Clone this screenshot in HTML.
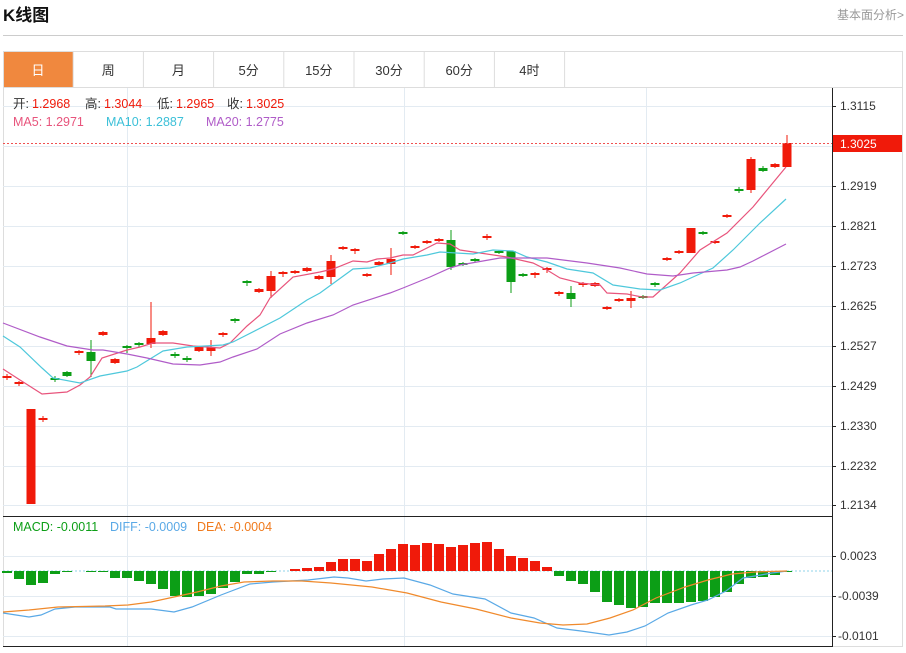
<!DOCTYPE html>
<html><head><meta charset="utf-8"><style>
body{margin:0;background:#fff;width:906px;height:648px;overflow:hidden;font-family:"Liberation Sans","Noto Sans CJK SC",sans-serif}
</style></head><body>
<svg id="s" width="906" height="648" xmlns="http://www.w3.org/2000/svg" font-family="Liberation Sans, Noto Sans CJK SC, sans-serif">
<text x="3" y="21" font-size="17" font-weight="bold" fill="#111">K线图</text>
<text x="904" y="19" font-size="12" fill="#999" text-anchor="end">基本面分析&gt;</text>
<line x1="3" y1="35.5" x2="903" y2="35.5" stroke="#ccc"/>
<rect x="3.5" y="51.5" width="899" height="595" fill="none" stroke="#ddd"/>
<line x1="3" y1="87.5" x2="903" y2="87.5" stroke="#ddd"/>
<rect x="4" y="52" width="69" height="35" fill="#f0883e"/>
<g id="tabs" font-size="13" text-anchor="middle"></g>
<g id="g"></g>
</svg>
<script>
const NS="http://www.w3.org/2000/svg",g=document.getElementById('g'),tb=document.getElementById('tabs');
function el(p,t,a,txt){const e=document.createElementNS(NS,t);for(const k in a)e.setAttribute(k,a[k]);if(txt!=null)e.textContent=txt;p.appendChild(e);return e}
const tabs=["日","周","月","5分","15分","30分","60分","4时"];
tabs.forEach((t,i)=>{const x=3+i*70.2;el(tb,'text',{x:x+35,y:75,fill:i?'#333':'#fff'},t);el(tb,'line',{x1:x+70.2,y1:52,x2:x+70.2,y2:87,stroke:'#ddd'})});
[106,146,186,226,266,306,346,386,426,466,505,556,596,636].forEach(y=>el(g,'line',{x1:3,y1:y+.5,x2:832,y2:y+.5,stroke:'#e3ebf2'}));
[127,404,646].forEach(x=>el(g,'line',{x1:x+.5,y1:88,x2:x+.5,y2:646,stroke:'#e3ebf2'}));
el(g,'line',{x1:3,y1:516.5,x2:832,y2:516.5,stroke:'#222'});
el(g,'line',{x1:3,y1:646.5,x2:832,y2:646.5,stroke:'#222'});
el(g,'line',{x1:832.5,y1:88,x2:832.5,y2:647,stroke:'#222'});
const L=[[106,"1.3115"],[186,"1.2919"],[226,"1.2821"],[266,"1.2723"],[306,"1.2625"],[346,"1.2527"],[386,"1.2429"],[426,"1.2330"],[466,"1.2232"],[505,"1.2134"],[556,"0.0023"],[596,"-0.0039"],[636,"-0.0101"]];
L.forEach(([y,t])=>{el(g,'line',{x1:832,y1:y+.5,x2:836,y2:y+.5,stroke:'#222'});el(g,'text',{x:t[0]=='-'?838:840,y:y+4,'font-size':12,fill:'#333'},t)});
const C=[[376,378,374,380,'r'],[382,384,381,386,'r'],[409,504,409,504,'r'],[418,420,416,422,'r'],[378,380,376,382,'g'],[372,376,371,377,'g'],[351,353,350,355,'r'],[352,361,340,377,'g'],[332,335,331,336,'r'],[359,363,358,364,'r'],[346,348,345,353,'g'],[343,345,342,347,'g'],[338,344,302,348,'r'],[331,335,330,336,'r'],[354,356,352,358,'g'],[358,360,356,362,'g'],[347,351,346,352,'r'],[347,351,340,356,'r'],[333,335,332,337,'r'],[319,321,318,323,'g'],[281,283,280,286,'g'],[289,292,288,293,'r'],[276,291,271,298,'r'],[272,274,271,277,'r'],[271,273,270,274,'r'],[268,271,267,272,'r'],[276,279,275,280,'r'],[261,277,255,284,'r'],[247,249,246,250,'r'],[249,251,248,254,'r'],[274,276,273,277,'r'],[262,265,261,266,'r'],[259,264,248,275,'r'],[232,234,231,235,'g'],[246,248,245,249,'r'],[241,243,240,244,'r'],[239,241,238,242,'r'],[240,267,230,270,'g'],[263,265,262,266,'g'],[259,261,258,262,'g'],[236,238,234,240,'r'],[251,253,250,254,'g'],[251,282,251,293,'g'],[274,276,273,277,'g'],[273,275,272,278,'r'],[268,270,267,273,'r'],[292,294,291,296,'r'],[293,299,286,307,'g'],[283,285,282,287,'r'],[283,286,282,287,'r'],[307,309,306,310,'r'],[299,301,298,302,'r'],[298,301,291,308,'r'],[296,298,295,299,'g'],[283,285,282,287,'g'],[258,260,257,261,'r'],[251,253,250,254,'r'],[228,253,228,253,'r'],[232,234,231,235,'g'],[241,243,240,244,'r'],[215,217,214,218,'r'],[189,191,187,193,'g'],[159,190,157,193,'r'],[168,171,166,172,'g'],[164,167,163,168,'r'],[143,167,135,167,'r']];
const R='#f01a0a',G='#0c9e16';
C.forEach((c,i)=>{const x=7+12*i,col=c[4]=='r'?R:G;el(g,'line',{x1:x,y1:c[2],x2:x,y2:c[3],stroke:col});el(g,'rect',{x:x-4.5,y:c[0],width:9,height:Math.max(2,c[1]-c[0]),fill:col})});
function pl(pts,col){el(g,'polyline',{points:pts,fill:'none',stroke:col,'stroke-width':1.2})}
pl("3,369 20,380 42,394 67,392 80,385 90,377 102,358 127,350 140,347 153,343 173,343 193,346 220,348 230,343 247,326 260,315 270,298 293,277 320,272 333,269 353,261 367,262 377,259 390,258 403,255 413,255 437,243 450,244 460,250 480,253 507,257 533,263 547,270 560,278 580,283 600,285 607,293 627,294 642,297 653,297 680,273 700,250 727,233 753,207 786,167",'#e8547c');
pl("3,336 20,347 42,368 53,378 80,383 100,376 127,371 137,367 163,351 187,347 223,345 233,342 280,318 307,300 320,293 353,269 370,268 390,263 403,259 427,255 440,252 473,254 493,250 513,251 527,257 547,262 567,269 593,273 613,285 640,289 660,290 680,283 693,277 713,268 733,250 760,223 786,199",'#4ec8db');
pl("3,323 40,337 67,346 93,350 103,350 127,354 147,358 173,364 200,365 220,362 233,357 257,349 280,334 307,323 333,315 353,305 390,293 403,288 430,277 450,268 460,265 500,258 547,258 587,263 620,268 647,274 673,276 693,273 727,270 740,267 753,261 786,244",'#b05cc8');
el(g,'line',{x1:3,y1:143.5,x2:832,y2:143.5,stroke:'#f05050','stroke-dasharray':'2,2'});
el(g,'rect',{x:833,y:135,width:69,height:17,fill:R});
el(g,'text',{x:840,y:148,'font-size':12,fill:'#fff'},"1.3025");
const H=[573,579,585,583,574,572,571,572,572,578,578,581,584,589,596,597,596,594,588,582,574,574,572,571,569,568,567,562,559,559,561,554,549,544,545,543,544,547,545,543,542,549,556,558,561,567,576,581,584,592,602,605,608,607,603,603,603,602,601,597,592,584,578,577,575,572];
el(g,'line',{x1:3,y1:571,x2:832,y2:571,stroke:'#8fd3ea','stroke-dasharray':'2,2'});
H.forEach((y,i)=>{const x=7+12*i;const t=Math.min(y,571),h=Math.abs(y-571);if(h>0)el(g,'rect',{x:x-5,y:t,width:10,height:h,fill:y<571?R:G})});
pl("3,613 29,617 41,615 55,609 75,607 110,607 116,609 151,609 174,612 192,607 221,595 250,584 273,582 308,580 334,577 348,578 366,581 383,579 404,578 430,585 453,594 485,599 511,613 534,618 557,628 581,631 609,635 627,632 645,626 668,613 691,605 708,600 726,591 743,578 755,576 772,573 787,571",'#5aa9e6');
pl("3,612 29,610 58,607 105,606 128,605 151,602 174,597 197,592 221,586 244,582 273,581 302,581 331,583 372,587 407,593 441,602 476,609 511,618 540,623 563,625 587,624 610,618 633,610 656,598 685,587 708,580 732,574 755,572 787,571",'#f08a2c');
function leg(y,items){items.forEach(([x,s,c])=>el(g,'text',{x:x,y:y,'font-size':12.5,fill:c},s))}
leg(108,[[13,"开:","#333"],[32,"1.2968",R],[85,"高:","#333"],[104,"1.3044",R],[157,"低:","#333"],[176,"1.2965",R],[227,"收:","#333"],[246,"1.3025",R]]);
leg(126,[[13,"MA5: 1.2971","#e8547c"],[106,"MA10: 1.2887","#3cc0d8"],[206,"MA20: 1.2775","#b05cc8"]]);
leg(531,[[13,"MACD: -0.0011",G],[110,"DIFF: -0.0009","#5aa9e6"],[197,"DEA: -0.0004","#f07a1c"]]);
</script>
</body></html>
